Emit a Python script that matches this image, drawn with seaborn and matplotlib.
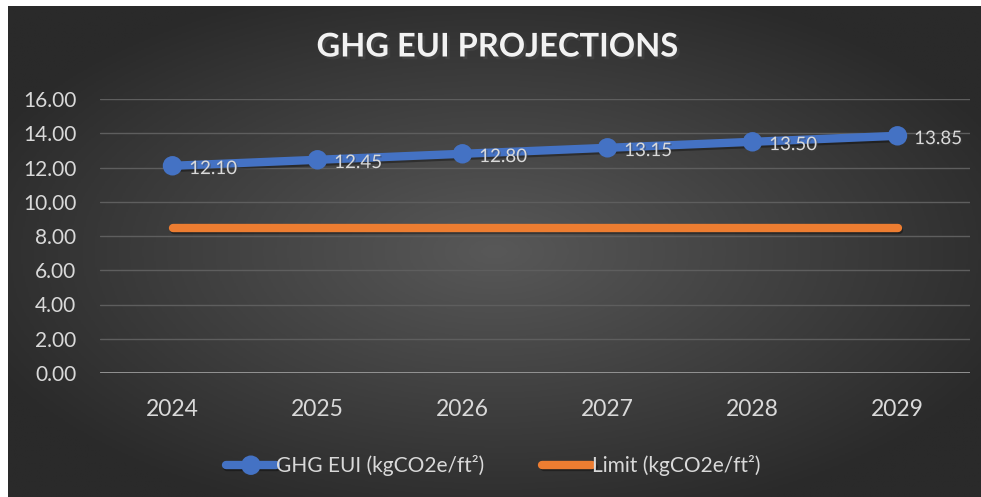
import numpy as np
import pandas as pd
import matplotlib
matplotlib.use('Agg')
import matplotlib.pyplot as plt
import matplotlib.patheffects as pe
import seaborn as sns

years = ['2024', '2025', '2026', '2027', '2028', '2029']
ghg_eui = [12.10, 12.45, 12.80, 13.15, 13.50, 13.85]
limit = [8.45, 8.45, 8.45, 8.45, 8.45, 8.45]
series_names = ['GHG EUI (kgCO2e/ft²)', 'Limit (kgCO2e/ft²)']
yticks = [0, 2, 4, 6, 8, 10, 12, 14, 16]

sns.set_style('dark')
plt.rcParams['font.family'] = ['Lato', 'DejaVu Sans']

text_col = '#d9d9d9'
blue = '#4472c4'
orange = '#ed7d31'

df = pd.DataFrame({'year': years, 'ghg': ghg_eui, 'limit': limit})

fig = plt.figure(figsize=(9.81, 4.97), dpi=100)
fig.patch.set_facecolor('white')

# dark radial background of the chart area
bg = fig.add_axes([8 / 981, 0, 1 - 8 / 981, 1 - 6 / 497], zorder=-5)
yy, xx = np.mgrid[-1:1:300j, -1:1:600j]
r = np.clip(np.sqrt(xx ** 2 + yy ** 2) / 1.15, 0, 1)
bg.imshow(r, cmap=matplotlib.colors.LinearSegmentedColormap.from_list(
    'bg', ['#585858', '#2a2a2a']), aspect='auto', vmin=0, vmax=1)
bg.axis('off')

ax = fig.add_axes([100 / 981, 1 - 373 / 497, 870 / 981, 274 / 497])
ax.set_facecolor('none')

shadow = [pe.SimpleLineShadow(offset=(1, -1.5), shadow_color='black', alpha=0.35), pe.Normal()]

sns.lineplot(data=df, x='year', y='limit', ax=ax, color=orange, lw=6,
             solid_capstyle='round', label=series_names[1], zorder=3,
             path_effects=shadow)
sns.lineplot(data=df, x='year', y='ghg', ax=ax, color=blue, lw=6,
             marker='o', markersize=14, markeredgewidth=0,
             label=series_names[0], zorder=4, path_effects=shadow)

for i, v in enumerate(ghg_eui):
    ax.annotate(f'{v:.2f}', (i, v), xytext=(12, -2), textcoords='offset points',
                ha='left', va='center', color=text_col, fontsize=13.5, zorder=5,
                path_effects=[pe.withSimplePatchShadow(offset=(1, -1), alpha=0.4)])

ax.set_xlim(-0.5, 5.5)
ax.set_ylim(0, 16)
ax.set_yticks(yticks)
ax.set_yticklabels([f'{t:.2f}' for t in yticks])
ax.set_xlabel('')
ax.set_ylabel('')
ax.grid(axis='y', color='#5e5e5e', lw=1)
ax.grid(axis='x', visible=False)
ax.axhline(0, color='#9a9a9a', lw=2, zorder=2)
for s in ax.spines.values():
    s.set_visible(False)
ax.tick_params(axis='both', length=0, colors=text_col, labelsize=15)
ax.tick_params(axis='x', pad=19, labelsize=16.5)
ax.tick_params(axis='y', pad=17)

fig.text(0.507, 1 - 47 / 497, 'GHG EUI PROJECTIONS', ha='center', va='center',
         color='#f2f2f2', fontsize=23.5, fontweight='bold',
         path_effects=[pe.withSimplePatchShadow(offset=(2, -2), alpha=0.6)])

handles, labels = ax.get_legend_handles_labels()
order = [labels.index(n) for n in series_names]
ax.legend([handles[i] for i in order], [labels[i] for i in order],
          loc='center', bbox_to_anchor=(0.503, 1 - 466 / 497),
          bbox_transform=fig.transFigure, ncol=2, frameon=False,
          fontsize=15, labelcolor=text_col, handlelength=2.4,
          handletextpad=0.0, columnspacing=2.8)

fig.savefig('out.png', dpi=100, facecolor=fig.get_facecolor())
